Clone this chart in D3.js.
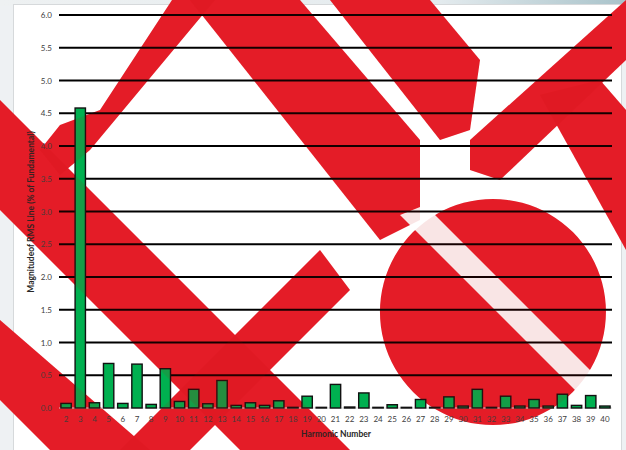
<!DOCTYPE html>
<html>
<head>
<meta charset="utf-8">
<script src="https://cdn.jsdelivr.net/npm/d3@7"></script>
<style>
  html, body { margin: 0; padding: 0; background: #eef1f3; }
  svg { display: block; }
  text { font-family: Lato, "Open Sans", sans-serif; }
</style>
</head>
<body>
<svg width="626" height="450"></svg>
<script>
'use strict'

// Harmonic orders and magnitudes (% of fundamental)
const harmonics = d3.range(2, 41);
const magnitudes = [
  0.07, 4.58, 0.08, 0.68, 0.07, 0.67, 0.055, 0.60, 0.10, 0.285,
  0.065, 0.42, 0.04, 0.08, 0.04, 0.11, 0.01, 0.18, 0.01, 0.36,
  0.015, 0.23, 0.01, 0.05, 0.01, 0.13, 0.01, 0.17, 0.03, 0.285,
  0.01, 0.18, 0.03, 0.13, 0.03, 0.21, 0.04, 0.19, 0.03
];
const yTicks = d3.range(0, 6.01, 0.5);

const data = harmonics.map((h, i) => ({ h: h, v: magnitudes[i] }));

const svg = d3.select('svg');
const width = 626;
const height = 450;

const margin = { left: 59, right: 13, top: 15, bottom: 42 };

// background frame
const topGrad = svg.append('defs').append('linearGradient')
  .attr('id', 'topg');
topGrad.append('stop').attr('offset', '0%').attr('stop-color', '#eef1f2');
topGrad.append('stop').attr('offset', '70%').attr('stop-color', '#e4ebee');
topGrad.append('stop').attr('offset', '100%').attr('stop-color', '#a9c3ca');
svg.append('rect')
  .attr('x', 0).attr('y', 0).attr('width', width).attr('height', 6)
  .attr('fill', 'url(#topg)');
svg.append('rect')
  .attr('x', 13.5).attr('y', 4.5).attr('width', 608).attr('height', 460)
  .attr('fill', '#fff')
  .attr('stroke', '#d6d9db');

// watermark shapes (decoration, sits behind the chart)
const shapes = [
  'M0,100 L0,210 L240,450 L350,450 Z',
  'M40,150 L60,125 L100,110 L172,0 L215,0 L90,150 L60,175 Z',
  'M190,0 L300,0 L420,140 L420,220 L380,240 Z',
  'M330,0 L430,0 L480,60 L470,130 L440,140 Z',
  'M626,0 L626,60 L500,180 L470,170 L470,140 Z',
  'M0,320 L0,400 L50,450 L150,450 Z',
  'M120,450 L190,450 L350,290 L320,250 Z',
  'M540,95 L600,80 L626,110 L626,250 Z',
  'M493,199 A113,113 0 1,1 492.9,199 Z'
];
const cuts = [
  'M400,215 L425,205 L600,380 L590,405 Z'
];

function drawWatermark(g) {
  g.selectAll('path.wm')
    .data(shapes)
    .join('path')
    .attr('class', 'wm')
    .attr('d', d => d);
}

const wmBack = svg.append('g').attr('fill', '#e8202c');
drawWatermark(wmBack);
wmBack.selectAll('path.cut')
  .data(cuts)
  .join('path')
  .attr('class', 'cut')
  .attr('d', d => d)
  .attr('fill', '#fff');

const x = d3.scaleBand()
  .domain(harmonics)
  .range([margin.left, width - margin.right - 1])
  .paddingInner(0.27)
  .paddingOuter(0.135);

const y = d3.scaleLinear()
  .domain([0, 6])
  .range([height - margin.bottom, margin.top]);

// gridlines
svg.append('g')
  .selectAll('line')
  .data(yTicks.filter(d => d > 0))
  .join('line')
  .attr('x1', margin.left)
  .attr('x2', width - margin.right - 1)
  .attr('y1', d => y(d))
  .attr('y2', d => y(d))
  .attr('stroke', '#000')
  .attr('stroke-width', 1.8);

svg.append('line')
  .attr('x1', margin.left)
  .attr('x2', width - margin.right - 1)
  .attr('y1', y(0))
  .attr('y2', y(0))
  .attr('stroke', '#d9d9d9')
  .attr('stroke-width', 1);

// y axis labels
const yAxis = d3.axisLeft(y)
  .tickValues(yTicks)
  .tickFormat(d3.format('.1f'))
  .tickSize(0)
  .tickPadding(7);
const gy = svg.append('g')
  .attr('transform', `translate(${margin.left},0)`)
  .call(yAxis);
gy.select('.domain').remove();
gy.selectAll('text')
  .attr('fill', '#404040')
  .style('font-size', '8px');

// x axis labels
const xAxis = d3.axisBottom(x).tickSize(0).tickPadding(8);
const gx = svg.append('g')
  .attr('transform', `translate(0,${y(0)})`)
  .call(xAxis);
gx.select('.domain').remove();
gx.selectAll('text')
  .attr('fill', '#404040')
  .style('font-size', '8px');

// bars
svg.append('g')
  .selectAll('rect')
  .data(data)
  .join('rect')
  .attr('x', d => x(d.h))
  .attr('y', d => y(d.v))
  .attr('width', x.bandwidth())
  .attr('height', d => y(0) - y(d.v))
  .attr('fill', '#00b050')
  .attr('stroke', '#111')
  .attr('stroke-width', 1.4);

// axis titles
svg.append('text')
  .attr('x', (margin.left + width - margin.right) / 2)
  .attr('y', 437)
  .attr('text-anchor', 'middle')
  .attr('fill', '#262626')
  .style('font-size', '8.5px')
  .style('font-weight', 'bold')
  .text('Harmonic Number');

svg.append('text')
  .attr('transform', `translate(34,${212}) rotate(-90)`)
  .attr('text-anchor', 'middle')
  .attr('fill', '#262626')
  .style('font-size', '8.5px')
  .style('font-weight', 'bold')
  .text('Magnitudeof RMS Line (% of Fundamental)');

// faint tint of the same watermark over the chart marks
const wmFront = svg.append('g')
  .attr('fill', '#c00000')
  .attr('fill-opacity', 0.1)
  .style('pointer-events', 'none');
drawWatermark(wmFront);
</script>
</body>
</html>
